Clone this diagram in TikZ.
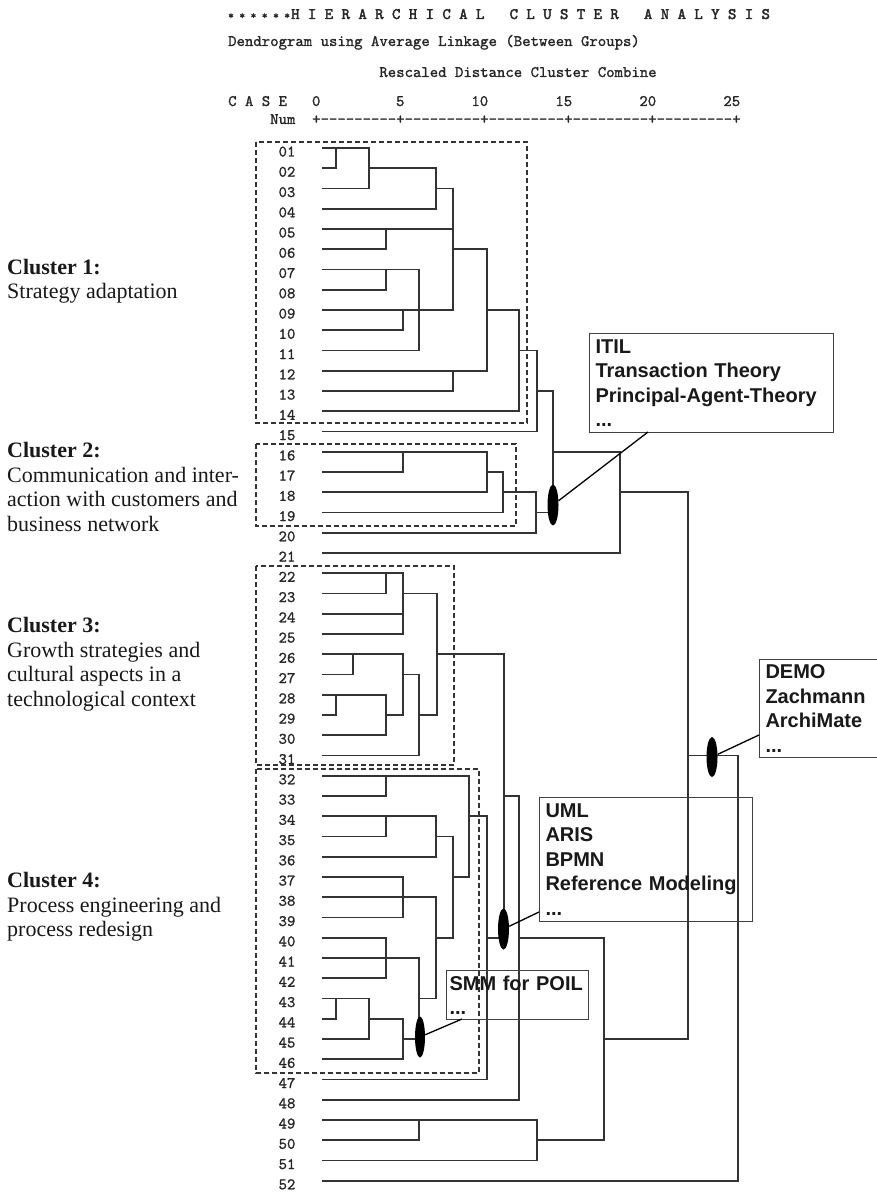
\documentclass[tikz,border=0pt]{standalone}
\usepackage{fontspec}
\setmainfont{Liberation Serif}
\newfontfamily\boxfont{Liberation Sans}
\newfontfamily\spssfont{lmmono10-regular.otf}[FakeBold=1.2]
\newfontfamily\spsshead{lmmono10-regular.otf}[FakeBold=2.4]
\usetikzlibrary{shapes.geometric}

\begin{document}
\begin{tikzpicture}[x=1pt,y=-1pt,
  declare function={R(\i)=148+(\i-1)*20.25;},
  dl/.style={line width=1.6pt, draw=black!80, line cap=rect},
  dbox/.style={line width=1.4pt, draw=black!80, dash pattern=on 5pt off 3pt},
  spss/.style={font=\spssfont\fontsize{16}{16}\selectfont, inner sep=0pt, anchor=base west, text=black!85},
  tick/.style={spss, anchor=base},
  tick2/.style={spss, anchor=base east},
  clab/.style={font=\fontsize{22}{24.5}\selectfont, align=left, anchor=west, inner sep=0pt, text=black!90},
  infobox/.style={draw=black!75, line width=1pt, fill=white, font=\boxfont\bfseries\fontsize{20}{24.5}\selectfont,
    align=left, anchor=north west, inner xsep=6pt, inner ysep=0pt, text=black!90},
  blob/.style={ellipse, fill=black, inner sep=0pt, minimum width=11pt, minimum height=41pt},
  pin/.style={line width=1.3pt, draw=black}
]
\useasboundingbox (0,0) rectangle (876,1193);
\fill[white] (0,0) rectangle (876,1193);

% ---- header lines of the SPSS listing
\node[spss, font=\spsshead\fontsize{10.7}{12}\selectfont] (stars) at (228,19) {* * * * * *};
\node[spss, font=\spsshead\fontsize{16}{16}\selectfont] (title) at (291,19)
  {H I E R A R C H I C A L~~~C L U S T E R~~~A N A L Y S I S};
\node[spss] (method) at (228,46) {Dendrogram using Average Linkage (Between Groups)};
\node[spss] (scale) at (379.2,77) {Rescaled Distance Cluster Combine};
\node[spss] (case) at (228,106) {C A S E};
\node[tick] (t0) at (316.2,106) {0};
\node[tick] (t5) at (400.2,106) {5};
\node[tick2] (t10) at (488.4,106) {10};
\node[tick2] (t15) at (572.4,106) {15};
\node[tick2] (t20) at (656.4,106) {20};
\node[tick2] (t25) at (740.4,106) {25};
\node[spss] (num) at (270,124) {Num};
\node[spss] (axis) at (312,124) {+---------+---------+---------+---------+---------+};

% ---- case numbers
\foreach \i in {1,...,52}
  \node[spss] (row\i) at (278.4,{R(\i)+8.5}) {\ifnum\i<10 0\fi\i};

% ---- cluster frames
\draw[dbox] (256,142) rectangle (527,423);
\draw[dbox] (256,444) rectangle (516,526);
\draw[dbox] (256,566) rectangle (454,765);
\draw[dbox] (256,769) rectangle (479,1073);

% ---- dendrogram: horizontal strokes (row / from x / to x)
\foreach \r/\a/\b in {1/323/369, 2/323/336, 2/369/436, 3/323/369, 3/436/453, 4/323/436,
  5/323/453, 6/323/386, 6/453/487, 7/323/419, 8/323/386, 9/323/453, 9/487/519,
  10/323/403, 11/323/419, 11/519/537, 12/323/487, 13/323/453, 13/537/553, 14/323/519,
  15/323/537, 16/323/487, 16/553/620, 17/323/403, 17/487/503, 18/323/487, 18/503/536,
  18/620/688, 19/323/503, 19/536/553, 20/323/536, 21/323/620, 22/323/403, 23/323/386,
  23/403/437, 24/323/403, 25/323/403, 26/323/403, 26/437/504, 27/323/353, 27/403/419,
  28/323/386, 29/323/336, 29/386/403, 29/419/437, 30/323/386, 31/323/419, 31/688/738,
  32/323/469, 33/323/386, 33/504/519, 34/323/436, 34/469/487, 35/323/386, 35/436/453,
  36/323/436, 37/323/403, 37/453/469, 38/323/436, 39/323/403, 40/323/386, 40/436/453,
  40/487/504, 40/519/604, 41/323/419, 42/323/386, 43/323/369, 43/419/436, 44/323/336,
  44/369/403, 45/323/369, 45/403/419, 45/604/688, 46/323/403, 47/323/487, 48/323/519,
  49/323/537, 50/323/419, 50/537/604, 51/323/537, 52/323/738}
  \draw[dl] (\a,{R(\r)}) -- (\b,{R(\r)});

% ---- dendrogram: vertical strokes (x / from row / to row)
\foreach \x/\p/\q in {336/1/2, 369/1/3, 436/2/4, 386/5/6, 453/3/9, 386/7/8, 419/7/11,
  403/9/10, 487/6/12, 453/12/13, 519/9/14, 537/11/15, 553/13/19, 403/16/17, 487/16/18,
  503/17/19, 536/18/20, 620/16/21, 688/18/45, 386/22/23, 403/22/25, 437/23/29,
  353/26/27, 403/26/29, 336/28/29, 386/28/30, 419/27/31, 504/26/40, 386/32/33,
  469/32/37, 386/34/35, 436/34/36, 453/35/40, 403/37/39, 436/38/43, 386/40/42,
  419/41/45, 336/43/44, 369/43/45, 403/44/46, 487/34/47, 519/33/48, 604/40/50,
  419/49/50, 537/49/51, 738/31/52}
  \draw[dl] (\x,{R(\p)}) -- (\x,{R(\q)});

% ---- cluster captions
\node[clab] (c1) at (7,281) {\textbf{Cluster 1:}\\Strategy adaptation};
\node[clab] (c2) at (7,487) {\textbf{Cluster 2:}\\Communication and inter-\\action with customers and\\business network};
\node[clab] (c3) at (7,664) {\textbf{Cluster 3:}\\Growth strategies and\\cultural aspects in a\\technological context};
\node[clab] (c4) at (7,907) {\textbf{Cluster 4:}\\Process engineering and\\process redesign};

% ---- method boxes
\node[infobox, text width=232pt, minimum height=99pt] (itil) at (589,333)
  {ITIL\\Transaction Theory\\Principal-Agent-Theory\\...};
\node[infobox, text width=110pt, minimum height=98pt] (demo) at (759,659)
  {DEMO\\Zachmann\\ArchiMate\\...};
\node[infobox, text width=201pt, minimum height=124pt, fill=none] (uml) at (539,797)
  {UML\\ARIS\\BPMN\\Reference Modeling\\...};
\node[infobox, text width=136pt, inner xsep=3pt, minimum height=49pt, fill=none] (smm) at (446,970)
  {SMM for POIL\\...};

% ---- markers on the merge lines and their leaders
\node[blob] (itilblob) at (553,505) {};
\node[blob, minimum height=40pt] (demoblob) at (712,757) {};
\node[blob] (umlblob) at (503.5,929) {};
\node[blob, minimum width=10pt] (smmblob) at (420,1037) {};
\coordinate (itilpin) at (648,432);
\coordinate (demopin) at (759,735);
\coordinate (umlpin) at (539,912);
\coordinate (smmpin) at (462,1019);
\draw[pin] (itilblob) -- (itilpin);
\draw[pin] (demoblob) -- (demopin);
\draw[pin] (umlblob) -- (umlpin);
\draw[pin] (smmblob) -- (smmpin);
\end{tikzpicture}
\end{document}
